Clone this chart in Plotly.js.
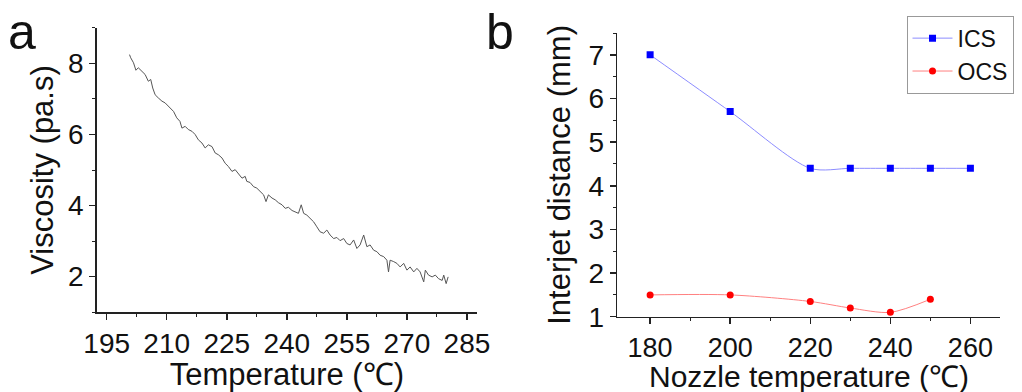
<!DOCTYPE html>
<html>
<head>
<meta charset="utf-8">
<script src="https://cdn.plot.ly/plotly-3.0.1.min.js"></script>
<style>html,body{margin:0;padding:0;background:#fff;}#chart{width:1022px;height:392px;}</style>
</head>
<body>
<div id="chart"></div>
<script>
// Panel a: viscosity vs temperature
const tempA = [200.7,201.0,201.7,202.3,202.9,203.8,204.6,205.4,206.0,206.5,207.1,207.9,208.8,209.6,210.8,211.7,212.5,213.3,213.8,214.6,215.4,216.3,217.1,217.9,218.8,219.6,220.4,221.3,222.1,222.9,223.8,224.6,225.4,226.3,227.1,227.9,228.8,229.6,230.0,230.8,231.7,232.5,233.3,234.2,234.8,235.4,236.3,237.1,237.9,238.8,239.6,240.4,241.3,242.1,242.9,243.6,244.2,245.0,245.8,246.7,247.5,248.3,249.2,250.0,250.8,251.7,252.5,253.3,254.2,255.0,255.8,256.7,257.5,258.3,259.2,260.0,260.8,261.7,262.5,263.3,264.2,265.0,265.4,265.8,266.7,267.5,268.3,269.2,270.0,270.8,271.7,272.5,273.3,274.2,274.6,275.4,276.3,277.1,277.9,278.8,279.2,279.8,280.3];
const viscA = [8.25,8.16,8.02,7.81,7.88,7.78,7.69,7.50,7.55,7.31,7.12,7.03,6.94,6.89,6.75,6.65,6.47,6.37,6.18,6.23,6.14,6.09,6.00,5.85,5.76,5.62,5.71,5.66,5.48,5.43,5.34,5.19,5.10,4.96,5.01,4.91,4.77,4.82,4.68,4.65,4.53,4.49,4.39,4.30,4.11,4.30,4.21,4.16,4.08,4.02,3.92,3.95,3.86,3.83,3.78,4.02,3.78,3.73,3.64,3.54,3.40,3.26,3.22,3.31,3.17,3.07,3.10,3.01,3.07,2.93,2.89,3.03,2.79,2.89,3.17,2.84,2.89,2.74,2.70,2.60,2.56,2.46,2.13,2.46,2.42,2.37,2.27,2.37,2.18,2.27,2.13,2.23,2.13,1.85,2.18,2.04,1.99,2.04,1.94,1.89,2.04,1.80,1.99];

// Panel b: interjet distance vs nozzle temperature
const tempICS = [180,200,220,230,240,250,260];
const ics = [7.0,5.7,4.4,4.4,4.4,4.4,4.4];
const tempOCS = [180,200,220,230,240,250];
const ocs = [1.5,1.5,1.35,1.2,1.1,1.4];

const xTickA = [195,210,225,240,255,270,285];
const xTickB = [180,200,220,240,260];

const FONT = 'Liberation Sans, Arial, sans-serif';
const AX = '#222';

const traces = [
  {x: tempA, y: viscA, type:'scatter', mode:'lines', line:{color:'#555', width:1}, showlegend:false, xaxis:'x', yaxis:'y'},
  {x: tempICS, y: ics, type:'scatter', mode:'lines+markers', name:'ICS',
   line:{color:'#8c8cff', width:1, shape:'spline', smoothing:0.8},
   marker:{symbol:'square', size:7, color:'#0000ff'}, xaxis:'x2', yaxis:'y2'},
  {x: tempOCS, y: ocs, type:'scatter', mode:'lines+markers', name:'OCS',
   line:{color:'#ff8080', width:1, shape:'spline', smoothing:0.8},
   marker:{symbol:'circle', size:7, color:'#ff0000'}, xaxis:'x2', yaxis:'y2'}
];

function axisBase(){
  return {showline:true, linecolor:AX, linewidth:1.5, ticks:'outside', ticklen:6, tickwidth:1.5, tickcolor:AX,
          showgrid:false, zeroline:false, automargin:false, tickfont:{size:28, color:'#111', family:FONT}};
}

const layout = {
  width:1022, height:392,
  margin:{l:0, r:0, t:0, b:0},
  paper_bgcolor:'#fff', plot_bgcolor:'#fff',
  font:{family:FONT, color:'#111'},
  xaxis: Object.assign(axisBase(), {domain:[0.0946,0.4667], range:[192.5,287.5], tickvals:xTickA,
          minor:{ticks:'outside', ticklen:3, tickwidth:1, tickcolor:AX, dtick:7.5, tick0:195},
          title:{text:'Temperature (℃)', font:{size:31, family:FONT, color:'#111'}, standoff:6}, anchor:'y'}),
  yaxis: Object.assign(axisBase(), {domain:[0.204,0.9286], range:[1,9], dtick:2, tick0:0,
          minor:{ticks:'outside', ticklen:3, tickwidth:1, tickcolor:AX, dtick:1, tick0:0},
          title:{text:'Viscosity (pa.s)', font:{size:31, family:FONT, color:'#111'}, standoff:5}, anchor:'x'}),
  xaxis2: Object.assign(axisBase(), {domain:[0.604,0.9785], range:[171.8,267.4], tickvals:xTickB,
          tickfont:{size:27, color:'#111', family:FONT},
          minor:{ticks:'outside', ticklen:3, tickwidth:1, tickcolor:AX, dtick:10, tick0:180}, anchor:'y2'}),
  yaxis2: Object.assign(axisBase(), {domain:[0.192,0.9158], range:[1,7.5], dtick:1, tick0:0,
          minor:{ticks:'outside', ticklen:3, tickwidth:1, tickcolor:AX, dtick:0.5, tick0:0},
          title:{text:'Interjet distance (mm)', font:{size:31, family:FONT, color:'#111'}, standoff:8}, anchor:'x2'}),
  showlegend:true,
  legend:{x:0.887, y:0.96, xanchor:'left', yanchor:'top', bordercolor:'#999', borderwidth:1, bgcolor:'#fff',
          font:{size:23, family:FONT, color:'#111'}, tracegroupgap:0, itemwidth:40},
  annotations:[
    {text:'a', x:0.006, y:0.918, xref:'paper', yref:'paper', xanchor:'left', yanchor:'middle', showarrow:false, font:{size:50, family:FONT, color:'#111'}},
    {text:'b', x:0.474, y:0.918, xref:'paper', yref:'paper', xanchor:'left', yanchor:'middle', showarrow:false, font:{size:50, family:FONT, color:'#111'}},
    {text:'Nozzle temperature (℃)', x:0.7913, y:0, xref:'paper', yref:'paper', xanchor:'center', yanchor:'bottom', yshift:-3,
     showarrow:false, font:{size:30, family:FONT, color:'#111'}}
  ]
};

Plotly.newPlot('chart', traces, layout, {displayModeBar:false, staticPlot:true});
</script>
</body>
</html>
